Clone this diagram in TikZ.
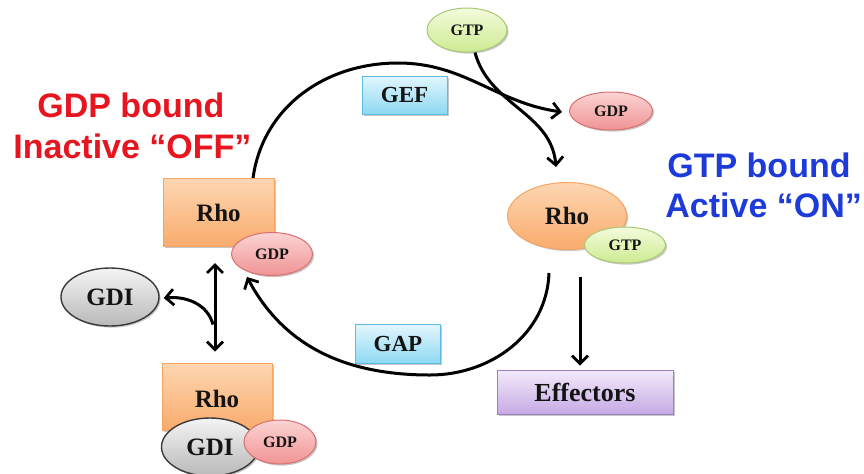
\documentclass[tikz,border=0pt]{standalone}
\usepackage{fontspec}
\setmainfont{Liberation Serif}
\newfontfamily\arialfont{Liberation Sans}
\usetikzlibrary{shapes.geometric,shadows,arrows.meta,calc,backgrounds}
\definecolor{orT}{HTML}{FDD6B2}
\definecolor{orB}{HTML}{F9AB6C}
\definecolor{orD}{HTML}{F4A463}
\definecolor{pkT}{HTML}{FBD3D3}
\definecolor{pkB}{HTML}{F09494}
\definecolor{pkD}{HTML}{D77070}
\definecolor{grT}{HTML}{F3FBDC}
\definecolor{grB}{HTML}{CDEB92}
\definecolor{grD}{HTML}{A9C872}
\definecolor{blT}{HTML}{E2F6FD}
\definecolor{blB}{HTML}{8ED8F2}
\definecolor{blD}{HTML}{5CBCE0}
\definecolor{puT}{HTML}{F3EAFA}
\definecolor{puB}{HTML}{C6AAE4}
\definecolor{puD}{HTML}{9C7FBE}
\definecolor{gyT}{HTML}{F4F4F4}
\definecolor{gyB}{HTML}{B9B9B9}
\definecolor{gyD}{HTML}{3A3A3A}
\definecolor{offred}{HTML}{E6151F}
\definecolor{onblue}{HTML}{1D3BD8}
\begin{document}
\begin{tikzpicture}[x=0.5pt,y=-0.5pt,
  sh/.style={drop shadow={shadow xshift=0.8pt,shadow yshift=-0.8pt,opacity=0.22,fill=black}},
  lbl/.style={font=\bfseries\fontsize{12.5}{12.5}\selectfont, text=black!92, inner sep=0pt},
  small/.style={font=\bfseries\fontsize{8}{8}\selectfont, text=black!92, inner sep=0pt},
  rhobox/.style={rectangle, draw=orD, line width=0.5pt, top color=orT, bottom color=orB, minimum width=55.5pt, minimum height=34pt, sh, lbl},
  rhoell/.style={ellipse, draw=orD, line width=0.5pt, top color=orT, bottom color=orB, sh, lbl},
  gdpell/.style={ellipse, draw=pkD, line width=0.5pt, top color=pkT, bottom color=pkB, sh, small},
  gtpell/.style={ellipse, draw=grD, line width=0.5pt, top color=grT, bottom color=grB, sh, small},
  gdiell/.style={ellipse, draw=gyD, line width=0.7pt, top color=gyT, bottom color=gyB, sh, lbl},
  enzbox/.style={rectangle, draw=blD, line width=0.5pt, top color=blT, bottom color=blB, minimum width=42.5pt, minimum height=19pt, sh, lbl, font=\bfseries\fontsize{11.5}{11.5}\selectfont},
  effbox/.style={rectangle, draw=puD, line width=0.5pt, top color=puT, bottom color=puB, minimum width=88pt, minimum height=22pt, sh, lbl, font=\bfseries\fontsize{13}{13}\selectfont},
  redtxt/.style={font=\arialfont\bfseries\fontsize{17}{20}\selectfont, text=offred, inner sep=0pt, anchor=base west},
  bluetxt/.style={font=\arialfont\bfseries\fontsize{17}{20}\selectfont, text=onblue, inner sep=0pt, anchor=base west},
  arr/.style={line width=1.5pt, draw=black, -{Straight Barb[length=4pt,width=8pt,line width=1.4pt]}},
  darr/.style={line width=1.5pt, draw=black, {Straight Barb[length=4pt,width=8pt,line width=1.4pt]}-{Straight Barb[length=4pt,width=8pt,line width=1.4pt]}}
]
\useasboundingbox (0,0) rectangle (864,473);

% state labels
\node[redtxt] (off1) at (37,117) {GDP bound};
\node[redtxt] (off2) at (13,158) {Inactive “OFF”};
\node[bluetxt] (on1) at (667,177) {GTP bound};
\node[bluetxt] (on2) at (665,217) {Active “ON”};

% inactive Rho
\node[rhobox] (rhoA) at (218.5,212.5) {Rho};
\node[gdpell, minimum width=40.5pt, minimum height=21.5pt] (gdpA) at (272,254) {GDP};

% enzymes
\node[enzbox] (gef) at (404.5,95) {GEF};
\node[enzbox, minimum height=19.5pt] (gap) at (398,344) {GAP};

% nucleotides at top
\node[gtpell, minimum width=40pt, minimum height=22pt] (gtpT) at (467,30) {GTP};
\node[gdpell, minimum width=41.5pt, minimum height=19pt] (gdpR) at (611,111) {GDP};

% active Rho
\node[rhoell, minimum width=59.5pt, minimum height=33.5pt] (rhoR) at (567,216) {Rho};
\node[gtpell, minimum width=40.5pt, minimum height=18pt] (gtpR) at (625,245) {GTP};

% effectors
\node[effbox] (eff) at (585,392) {Effectors};

% GDI free
\node[gdiell, minimum width=49pt, minimum height=29pt] (gdiL) at (110,297) {GDI};

% Rho-GDI complex
\node[rhobox, minimum width=55pt, minimum height=33.5pt] (rhoB) at (217,396.5) {};
\node[lbl] (rhoBlbl) at (217,399) {Rho};
\node[gdiell, minimum width=48.5pt, minimum height=29pt] (gdiB) at (210,447) {GDI};
\node[gdpell, minimum width=36pt, minimum height=22pt] (gdpB) at (280,442) {GDP};

% helper coordinates
\coordinate (a1) at ($(rhoA.north)+(34.5,0)$);
\coordinate (a2) at ($(gdpR.west)+(-7,1)$);
\coordinate (t1) at ($(gtpT.south)+(8,0)$);
\coordinate (t2) at ($(rhoR.north)+(-11,-15)$);
\coordinate (b1) at ($(rhoR.south)+(-18,23)$);
\coordinate (b2) at ($(gdpA.south)+(-25,1)$);
\coordinate (e1) at ($(eff.north)+(-5,-93)$);
\coordinate (e2) at ($(eff.north)+(-5,-4)$);
\coordinate (d1) at ($(rhoA.south)+(-3.5,16)$);
\coordinate (d2) at ($(rhoB.north)+(-2,-11)$);
\coordinate (g1) at ($(d2)+(-2,-27)$);
\coordinate (g2) at ($(gdiL.east)+(4,1)$);

\begin{scope}[on background layer]
  \draw[arr] (a1) to[out=82,in=180] (398,63) to[out=0,in=172] (a2);
  \draw[arr] (t1) to[out=-75,in=95] (t2);
  \draw[arr] (b1) to[out=-92,in=0] (430,375) to[out=180,in=-62] (b2);
\end{scope}
\draw[arr] (e1) -- (e2);
\draw[darr] (d1) -- (d2);
\draw[arr] (g1) to[out=105,in=5] (g2);
\end{tikzpicture}
\end{document}
